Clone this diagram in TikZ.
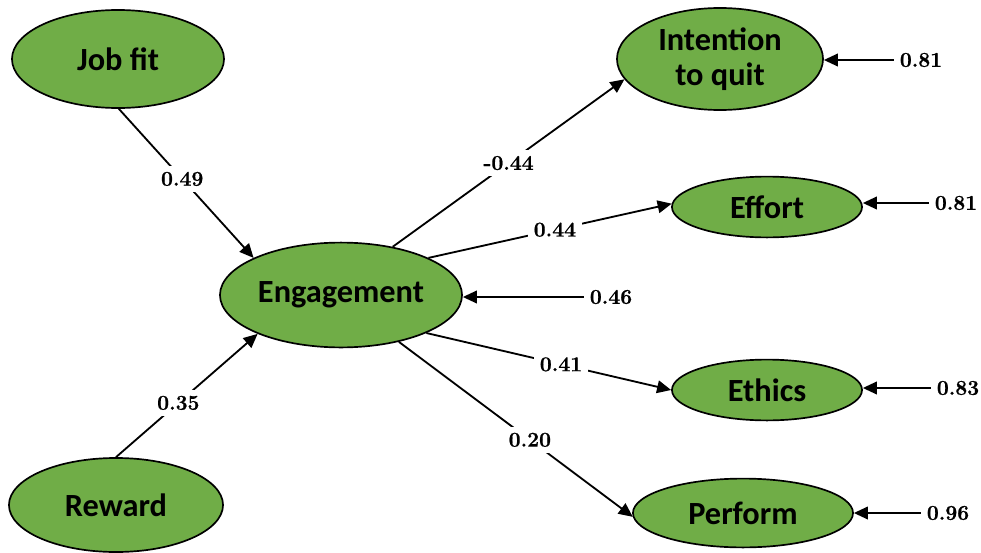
\documentclass[tikz,border=0pt]{standalone}
\usepackage{fontspec}
\usepackage{tikz}
\usetikzlibrary{arrows.meta,shapes.geometric}
\newfontfamily\latentfont{Carlito}
\newfontfamily\coeffont[BoldFeatures={FakeBold=0.8}]{Latin Modern Roman}
\definecolor{latentgreen}{HTML}{70AD47}
\tikzset{
	latent/.style={ellipse, draw, line width=1.2pt, fill=latentgreen, inner sep=0pt, align=center, font=\latentfont\bfseries\fontsize{23}{25}\selectfont},
	coef/.style={fill=white, inner sep=4pt, font=\coeffont\bfseries\fontsize{15}{16}\selectfont},
	resid/.style={inner sep=4pt, font=\coeffont\bfseries\fontsize{15}{16}\selectfont},
	link/.style={line width=1.3pt, -{Triangle[length=10pt,width=9pt]}}
}
\begin{document}
\begin{tikzpicture}[x=0.025cm, y=-0.025cm]
			\useasboundingbox (0, 0) rectangle (981, 553);
			\node[latent, minimum width=5.3cm, minimum height=2.45cm] (jobfit) at (118, 59) {Job fit};
			\node[latent, minimum width=5.35cm, minimum height=2.35cm] (reward) at (116, 505) {Reward};
			\node[latent, minimum width=6.05cm, minimum height=2.62cm] (engage) at (341, 295) {Engagement};
			\node[latent, minimum width=5.15cm, minimum height=2.55cm] (quit) at (720, 59) {Intention\\to quit};
			\node[latent, minimum width=4.75cm, minimum height=1.52cm] (effort) at (767, 207) {Effort};
			\node[latent, minimum width=4.75cm, minimum height=1.52cm] (ethics) at (767, 390) {Ethics};
			\node[latent, minimum width=5.5cm, minimum height=1.72cm] (perform) at (743, 513) {Perform};
			\node[resid] (rquit) at (921, 60) {0.81};
			\node[resid] (reffort) at (956, 203) {0.81};
			\node[resid] (rengage) at (611, 297) {0.46};
			\node[resid] (rethics) at (958, 388) {0.83};
			\node[resid] (rperform) at (948, 513) {0.96};
			\draw[link] (jobfit.-89) -- node[coef, pos=0.47] {0.49} (engage.157);
			\draw[link] (reward.north) -- node[coef, pos=0.44] {0.35} (engage.205);
			\draw[link] (engage.43) -- node[coef, pos=0.5] {-0.44} (quit.192);
			\draw[link] (engage.23) -- node[coef, pos=0.52] {0.44} (effort.178);
			\draw[link] (engage.-24) -- node[coef, pos=0.55] {0.41} (ethics.west);
			\draw[link] (engage.-39) -- node[coef, pos=0.56] {0.20} (perform.182);
			\draw[link] (rquit) -- (rquit -| quit.east);
			\draw[link] (reffort) -- (reffort -| effort.east);
			\draw[link] (rengage) -- (rengage -| engage.east);
			\draw[link] (rethics) -- (rethics -| ethics.east);
			\draw[link] (rperform) -- (rperform -| perform.east);
		\end{tikzpicture}
\end{document}
